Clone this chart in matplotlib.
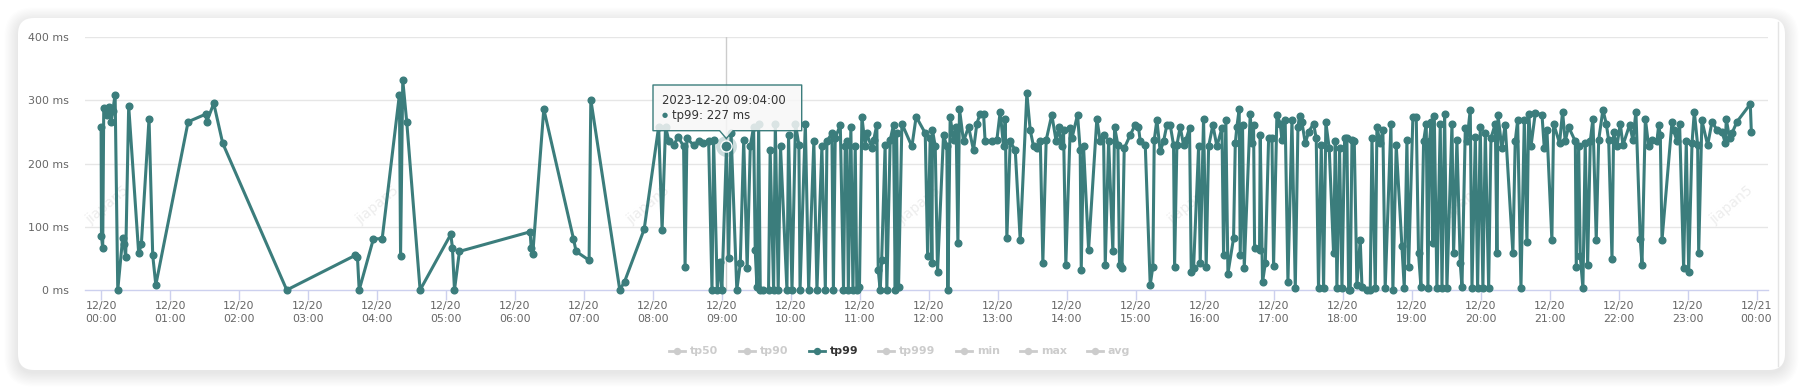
import matplotlib.pyplot as plt
from matplotlib.patches import FancyBboxPatch, Polygon
from matplotlib.lines import Line2D
from matplotlib.transforms import IdentityTransform

# tp99 samples, minutes after 2023-12-20 00:00 and value in ms
minutes = [
    0, 0.3, 1.4, 2.3, 4.9, 7.2, 8.7, 10.1, 12.2, 14.5, 18.8, 20, 21.4, 24, 32.7, 35, 41.7, 44.9, 47.6,
    75.7, 91, 91.9, 98, 105.8, 161.5, 221.3, 223, 224.5, 236.9, 244.5, 259.5, 260.5, 262.4, 265.9,
    277.5, 304.2, 305.6, 307.4, 311.7, 373.2, 374.1, 375.5, 385.1, 410.9, 413.2, 424.5, 426, 451.2,
    455.3, 472.4,
    485, 488, 491, 494, 498, 502, 506.7, 508, 509.6, 515.4, 519.8, 524, 528.5, 531.4, 532.8, 536,
    538.6, 540, 544, 545.9, 548, 553, 556, 559, 562, 564.7, 567.6, 569, 570.5, 572, 573.4, 576,
    580.6, 582, 585, 586.5, 589, 591, 596.6, 598, 601, 604, 607, 608, 612.6, 615.5, 620, 622.7,
    627, 630, 631.4,
    635.7, 637, 638.6, 643, 645.8, 647.3, 648.7, 650, 652.2, 654, 656, 657.4, 659.7, 661.8, 664.7,
    666, 670.5, 672, 674.8, 676, 677.7, 679, 682, 683.5, 686.4, 689.3, 690.8, 692, 693.7, 696.6,
    705.3, 709, 716.9, 719, 721.2, 722.7, 723.2, 725.6, 727.6, 732.8, 735.7, 736.6, 738.6, 741.5,
    743.8, 745.3, 746.7, 750.2, 754.6, 758.9, 761.8, 764.7, 767.6, 769, 774.9, 779.2, 782.1, 785,
    786.5, 787.9, 790.8, 795.2,
    799.5, 805.3, 808.2, 811.1, 814, 817, 819.2, 822.1, 827, 830.8, 832.9, 835.8, 837.2, 839.2,
    843, 844.5, 849.4, 851.7, 852.6, 854.6, 859, 866.2, 869.1, 872, 873.5, 876.4, 880.1, 881.6,
    884.5, 885.9, 888, 890, 895.2, 899.5, 902.4, 903.9, 908.3, 912.6, 914.9, 916.1, 918.4, 921.3,
    924.2, 927.1, 930, 932.9, 933.8, 935.8, 938.7, 941.6, 943.6, 946.8, 948.3, 950.3, 954.7, 956.1,
    959, 961.3, 963.4, 967.1, 970.6,
    975, 976.4, 978.4, 980.2, 985.1, 986.6, 988, 990, 990.9, 992.9, 994.4, 999.6, 1001, 1002.5,
    1003.4, 1007.7, 1008.3, 1010.3, 1012.7, 1015.6, 1018.5, 1019.9, 1022.8, 1025.7, 1027.2, 1030,
    1032.4, 1035.9, 1038.8, 1041.1, 1042.5, 1044.5, 1047.5, 1050.4, 1054.7, 1057, 1059, 1061.4,
    1063.4, 1065.4, 1068.3, 1072.1, 1073.6, 1075, 1077.3, 1079.4, 1081.7, 1083.7, 1085.2, 1086.6,
    1088.1, 1090.1, 1092.4, 1095.3, 1096.8, 1101.1, 1104, 1105.5, 1108.4, 1109.8, 1112.7, 1115,
    1117, 1122, 1123.7, 1126.6,
    1131.5, 1133.6, 1135.9, 1137.4, 1141.1, 1144, 1146, 1148.1, 1150.4, 1152.7, 1154.2, 1155.6,
    1157.1, 1158.5, 1159.7, 1162, 1164.9, 1166.4, 1168.7, 1170.7, 1175.1, 1176.5, 1179.4, 1182.3,
    1183.8, 1186.7, 1188.1, 1191, 1192.5, 1195.4, 1197.4, 1199.7, 1202, 1204.1, 1207, 1209,
    1212.8, 1214.2, 1215.1, 1218.5, 1221.4, 1228.1, 1230.1, 1232.2, 1235.1, 1238, 1240.3, 1241.8,
    1243.8, 1247.6, 1253.4, 1255.4, 1257.7, 1262, 1263.5, 1268.7, 1271.3, 1273.6, 1276.5, 1282.4,
    1283.2, 1285.3, 1286.7, 1289, 1291, 1293.1, 1295.4,
    1297.7, 1300.6, 1302.7, 1306.4, 1309.3, 1311.4, 1314.3, 1315.7, 1318.6, 1321.5, 1323.8,
    1329.6, 1332.5, 1335.1, 1338.9, 1340.4, 1343.3, 1346.2, 1349.1, 1353.4, 1354.9, 1356.3,
    1357.8, 1366.5, 1367.9, 1370.8, 1373.1, 1376.6, 1378.9, 1381, 1383.9, 1385.9, 1388.8, 1389.7,
    1392.5, 1397.5, 1401.3, 1405.6, 1410, 1412.9, 1413.7, 1416.6, 1418.7, 1423, 1434.6, 1435.5,
]
tp99 = [
    257, 86, 66, 287, 277, 290, 265, 283, 309, 0, 83, 72, 52, 291, 58, 72, 271, 55, 8,
    266, 278, 266, 295, 232, 0, 55, 52, 0, 81, 81, 309, 53, 332, 265,
    0, 88, 67, 0, 61, 92, 67, 57, 286, 81, 61, 47, 301, 0,
    13, 96,
    258, 95, 258, 235, 229, 242, 227, 37, 240, 229, 235, 232, 235, 0, 237, 0,
    45, 0, 227, 50, 248, 0, 42, 237, 34, 227, 258, 63, 5, 263, 0, 0,
    0, 221, 0, 263, 0, 227, 0, 245, 0, 263, 229, 0, 263, 0, 235, 0,
    227, 0, 235,
    248, 0, 240, 261, 0, 227, 235, 0, 258, 0, 227, 0, 5, 274, 227,
    248, 224, 237, 261, 32, 0, 47, 229, 0, 237, 261, 0, 248, 5, 263,
    227, 274, 248, 53, 240, 42, 253, 227, 29, 245, 227, 0, 274, 237,
    258, 74, 286, 235, 258, 221, 263, 279, 279, 235, 235, 237, 282, 227,
    271, 82, 235, 221,
    79, 311, 253, 227, 224, 235, 43, 237, 277, 235, 258, 227, 253, 40,
    256, 240, 277, 221, 32, 227, 64, 271, 235, 245, 40, 235, 61, 258,
    229, 40, 34, 224, 245, 261, 258, 235, 229, 8, 37, 237, 269, 219,
    235, 261, 261, 229, 37, 229, 258, 229, 237, 256, 29, 34, 227, 42,
    271, 37, 227, 261, 227,
    256, 55, 268, 26, 82, 232, 258, 286, 55, 261, 34, 279, 232, 261,
    66, 63, 245, 12, 42, 240, 240, 38, 277, 263, 237, 269,
    13, 269, 3, 258, 275, 266, 232, 250, 263, 240, 3, 229,
    3, 265, 224, 58, 235, 3, 224, 3, 240, 240, 0, 0,
    237, 236, 8, 79, 5, 0, 0, 240, 3, 258, 232, 253,
    3, 263, 0, 229,
    69, 3, 237, 37, 274, 273, 58, 5, 235, 263, 3, 235,
    266, 74, 275, 3, 263, 3, 279, 3, 263, 58, 237, 42,
    5, 256, 235, 285, 3, 242, 3, 258, 3, 248, 3, 240,
    263, 59, 277, 224, 261, 58, 235, 268, 3, 269, 76, 279,
    227, 280, 277, 224, 253, 79, 263, 232, 282, 235, 258, 235,
    37, 227, 53, 3, 232, 40, 235,
    271, 79, 237, 285, 263, 237, 49, 250, 227, 263, 229,
    261, 237, 282, 80, 40, 271, 227, 237, 235, 261, 245,
    79, 266, 253, 235, 263, 34, 235, 29, 232, 282, 229, 58,
    268, 229, 266, 253, 250, 232, 270, 240, 248, 266, 294, 250,
]

tick_minutes = list(range(0, 1441, 60))
tick_labels = ["12/20\n%02d:00" % h for h in range(24)] + ["12/21\n00:00"]
y_ticks = [0, 100, 200, 300, 400]
hover_minute, hover_value = 544, 227
hover_time = "2023-12-20 09:04:00"
series_names = ["tp50", "tp90", "tp99", "tp999", "min", "max", "avg"]
active_series = "tp99"

teal = "#3b7d7c"
W, H = 1803, 389
px = IdentityTransform()


def up(y):
    return H - y


fig = plt.figure(figsize=(W / 100, H / 100), dpi=100, facecolor="white")

# soft card shadow + card
for i in range(12):
    pad = 0.5 + i * 1.2
    fig.add_artist(FancyBboxPatch((18, up(370) - 3), 1767, 352,
                                  boxstyle="round,pad=%.1f,rounding_size=%.1f" % (pad, 16 + pad),
                                  transform=px, fc="black", ec="none", alpha=0.009, zorder=-20))
fig.add_artist(FancyBboxPatch((18, up(370)), 1767, 352, boxstyle="round,pad=0,rounding_size=16",
                              transform=px, fc="white", ec="none", zorder=-10))
fig.add_artist(Line2D([1778, 1778], [up(22), up(366)], color="#e4e4e4", lw=1,
                      transform=px, zorder=-9))

# watermark
for k in range(7):
    fig.text(107 + 270.7 * k, up(205), "jiapan5", transform=px, rotation=40, fontsize=10,
             color="#ededed", ha="center", va="center", zorder=-5)

ax = fig.add_axes([85 / W, up(290) / H, (1768 - 85) / W, 253 / H])
ax.set_facecolor("none")
ax.set_xlim(-14, 1450)
ax.set_ylim(0, 400)

for s in ["top", "right", "left"]:
    ax.spines[s].set_visible(False)
ax.spines["bottom"].set_color("#ccd0ee")
ax.spines["bottom"].set_linewidth(1)

ax.set_yticks(y_ticks)
ax.set_yticklabels(["%d ms" % v for v in y_ticks])
ax.set_xticks(tick_minutes)
ax.set_xticklabels(tick_labels, linespacing=1.3)
ax.tick_params(axis="y", length=0, pad=11.5, labelsize=7.9, labelcolor="#666666")
ax.tick_params(axis="x", length=7.2, width=1, color="#ccd0ee", pad=1, labelsize=7.9,
               labelcolor="#666666")
for v in y_ticks[1:]:
    ax.axhline(v, color="#e6e6e6", lw=1, zorder=0)

ax.axvline(hover_minute, color="#cccccc", lw=1, zorder=1)
ax.plot(minutes, tp99, color=teal, lw=2.2, marker="o", ms=4.8, zorder=3, clip_on=False)
ax.plot(hover_minute, hover_value, "o", ms=15, color=teal, alpha=0.25, mec="none", zorder=4)
ax.plot(hover_minute, hover_value, "o", ms=8, mfc=teal, mec="white", mew=1, zorder=5)

# tooltip
tip = [(653, 85), (801.7, 85), (801.7, 130.7), (733, 130.7), (726.3, 138.5), (719.6, 130.7), (653, 130.7)]
fig.add_artist(Polygon([(x, up(y)) for x, y in tip], closed=True, transform=px,
                       fc=(0.97, 0.97, 0.97, 0.85), ec=teal, lw=1, joinstyle="round", zorder=10))
fig.text(661.7, up(100.5), hover_time, transform=px, fontsize=8.4, color="#333333",
         va="center", zorder=11)
fig.text(664.5, up(115.5), "\u25cf", transform=px, fontsize=5, color=teal, ha="center",
         va="center", zorder=11)
fig.text(671.7, up(115.5), "%s: %d ms" % (active_series, hover_value), transform=px,
         fontsize=8.4, color="#333333", va="center", zorder=11)

# legend
legend_x = [669, 738.5, 808.6, 878.2, 955.9, 1020.2, 1086.8]
for name, x0 in zip(series_names, legend_x):
    on = name == active_series
    c = teal if on else "#cccccc"
    fig.add_artist(Line2D([x0, x0 + 16], [up(351)] * 2, color=c, lw=2, transform=px, zorder=5))
    fig.add_artist(Line2D([x0 + 8], [up(351)], color=c, marker="o", ms=4.3, transform=px,
                          zorder=6))
    fig.text(x0 + 21, up(351), name, transform=px, weight="bold", fontsize=7.9,
             color="#333333" if on else "#cccccc", va="center")

fig.savefig("out.png", dpi=100)
